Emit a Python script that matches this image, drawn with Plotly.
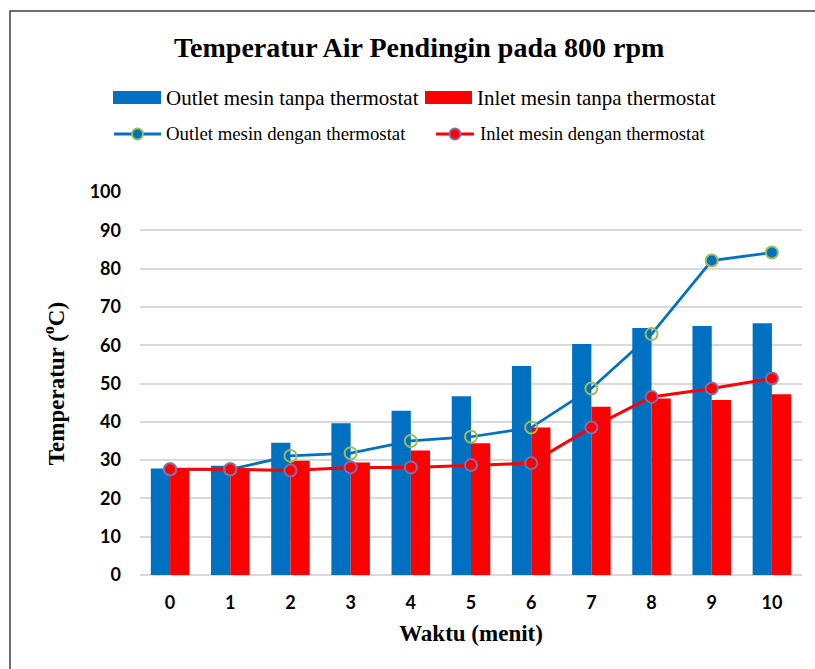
import plotly.graph_objects as go

# ---- data ----
minutes = [0, 1, 2, 3, 4, 5, 6, 7, 8, 9, 10]
outlet_tanpa = [27.8, 28.5, 34.5, 39.6, 42.9, 46.7, 54.6, 60.3, 64.5, 65.0, 65.7]
inlet_tanpa = [27.8, 27.8, 29.8, 29.4, 32.5, 34.4, 38.5, 43.9, 46.1, 45.7, 47.2]
outlet_dengan = [27.6, 27.6, 31.1, 31.8, 35.0, 36.1, 38.5, 48.7, 62.9, 82.1, 84.2]
inlet_dengan = [27.6, 27.6, 27.3, 28.1, 28.1, 28.7, 29.2, 38.5, 46.5, 48.7, 51.3]
y_ticks = [0, 10, 20, 30, 40, 50, 60, 70, 80, 90, 100]

names = ["Outlet mesin tanpa thermostat", "Inlet mesin tanpa thermostat",
         "Outlet mesin dengan thermostat", "Inlet mesin dengan thermostat"]

BLUE = "#0070C0"
RED = "#FF0000"
GREEN_EDGE = "#9BBB59"
PURPLE_EDGE = "#7F6FA8"

W, H = 815, 669
L, R, T, B = 140, 13, 192, 94
PW, PH = W - L - R, H - T - B


def px(x):
    return (x - L) / PW


def py(y):
    return (H - B - y) / PH


x_cat = [str(m) for m in minutes]

fig = go.Figure()
fig.add_trace(go.Bar(x=x_cat, y=outlet_tanpa, name=names[0], marker_color=BLUE,
                     marker_line_width=0, showlegend=False))
fig.add_trace(go.Bar(x=x_cat, y=inlet_tanpa, name=names[1], marker_color=RED,
                     marker_line_width=0, showlegend=False))

blue_fill = ["rgba(0,0,0,0)"] * 9 + [BLUE, BLUE]
fig.add_trace(go.Scatter(x=x_cat, y=outlet_dengan, name=names[2], mode="lines+markers",
                         line=dict(color=BLUE, width=2.75),
                         marker=dict(size=12, color=blue_fill,
                                     line=dict(color=GREEN_EDGE, width=2)),
                         showlegend=False))
fig.add_trace(go.Scatter(x=x_cat, y=inlet_dengan, name=names[3], mode="lines+markers",
                         line=dict(color=RED, width=3),
                         marker=dict(size=12, color=RED,
                                     line=dict(color=PURPLE_EDGE, width=2)),
                         showlegend=False))

shapes = []
annotations = []

# outer frame
shapes.append(dict(type="rect", xref="paper", yref="paper",
                   x0=px(10), x1=px(840), y0=py(700), y1=py(11),
                   line=dict(color="#404040", width=1.5), fillcolor="rgba(0,0,0,0)",
                   layer="below"))

# manual legend row 1 (bars)
serif = "Liberation Serif"
shapes.append(dict(type="rect", xref="paper", yref="paper", x0=px(113), x1=px(161),
                   y0=py(104), y1=py(91), fillcolor=BLUE, line_width=0))
annotations.append(dict(xref="paper", yref="paper", x=px(164), y=py(98), xanchor="left",
                        yanchor="middle", text=names[0], showarrow=False,
                        font=dict(family=serif, size=21, color="black")))
shapes.append(dict(type="rect", xref="paper", yref="paper", x0=px(425), x1=px(472),
                   y0=py(104), y1=py(91), fillcolor=RED, line_width=0))
annotations.append(dict(xref="paper", yref="paper", x=px(475), y=py(98), xanchor="left",
                        yanchor="middle", text=names[1], showarrow=False,
                        font=dict(family=serif, size=21, color="black")))

# manual legend row 2 (lines)
ly = 134
shapes.append(dict(type="line", xref="paper", yref="paper", x0=px(114), x1=px(161),
                   y0=py(ly), y1=py(ly), line=dict(color=BLUE, width=3)))
shapes.append(dict(type="circle", xref="paper", yref="paper", x0=px(132), x1=px(143),
                   y0=py(ly + 5.5), y1=py(ly - 5.5), fillcolor=BLUE,
                   line=dict(color=GREEN_EDGE, width=2)))
annotations.append(dict(xref="paper", yref="paper", x=px(164), y=py(ly), xanchor="left",
                        yanchor="middle", text=names[2], showarrow=False,
                        font=dict(family=serif, size=18.8, color="black")))
shapes.append(dict(type="line", xref="paper", yref="paper", x0=px(436), x1=px(474),
                   y0=py(ly), y1=py(ly), line=dict(color=RED, width=3)))
shapes.append(dict(type="circle", xref="paper", yref="paper", x0=px(449.5), x1=px(460.5),
                   y0=py(ly + 5.5), y1=py(ly - 5.5), fillcolor=RED,
                   line=dict(color=PURPLE_EDGE, width=2)))
annotations.append(dict(xref="paper", yref="paper", x=px(478), y=py(ly), xanchor="left",
                        yanchor="middle", text=names[3], showarrow=False,
                        font=dict(family=serif, size=18.6, color="black")))

# title
annotations.append(dict(xref="paper", yref="paper", x=px(419), y=py(47), xanchor="center",
                        yanchor="middle", text="<b>Temperatur Air Pendingin pada 800 rpm</b>",
                        showarrow=False, font=dict(family=serif, size=28, color="black")))

fig.update_layout(
    width=W, height=H,
    margin=dict(l=L, r=R, t=T, b=B, pad=0),
    paper_bgcolor="white", plot_bgcolor="white",
    barmode="group", bargap=0.36, bargroupgap=0.0,
    shapes=shapes, annotations=annotations,
    showlegend=False,
    xaxis=dict(
        type="category", range=[-0.5, 10.5],
        tickfont=dict(family="Lato", size=18, color="black", weight="bold"),
        ticks="", showgrid=False, showline=False, zeroline=False,
        ticklabelstandoff=15,
        title=dict(text="<b>Waktu (menit)</b>", standoff=12,
                   font=dict(family=serif, size=23, color="black")),
    ),
    yaxis=dict(
        range=[0, 100], tickvals=y_ticks,
        tickfont=dict(family="Lato", size=18, color="black", weight="bold"),
        ticks="", showline=False,
        gridcolor="#D9D9D9", gridwidth=1.5,
        zeroline=True, zerolinecolor="#D9D9D9", zerolinewidth=1.5,
        ticklabelstandoff=18,
        title=dict(text="<b>Temperatur (<sup>o</sup>C)</b>", standoff=18,
                   font=dict(family=serif, size=23, color="black")),
    ),
)

fig.write_html("out.html")
